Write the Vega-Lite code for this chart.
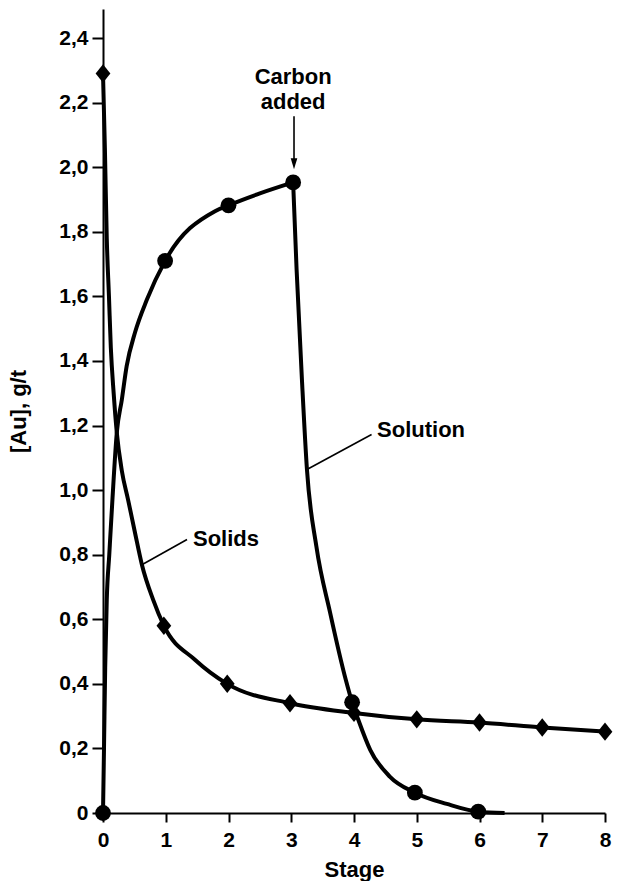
{
  "$schema": "https://vega.github.io/schema/vega-lite/v6.json",
  "width": 502,
  "height": 804,
  "autosize": "none",
  "padding": {"left": 103, "top": 9, "right": 14, "bottom": 68},
  "background": "white",
  "config": {
    "view": {"stroke": null},
    "axis": {
      "domainColor": "black", "domainWidth": 2, "tickColor": "black", "tickWidth": 2,
      "grid": false, "labelFont": "Liberation Sans", "labelFontWeight": "bold",
      "labelFontSize": 21, "labelColor": "black", "titleFont": "Liberation Sans",
      "titleFontWeight": "bold", "titleFontSize": 22, "titleColor": "black",
      "labelOverlap": false, "labelFlush": false
    }
  },
  "datasets": {
    "curves": [
      {"series": "Solids", "seg": "solids", "stage": 0, "value": 2.29, "m": true},
      {"series": "Solids", "seg": "solids", "stage": 0.03, "value": 2.06, "m": false},
      {"series": "Solids", "seg": "solids", "stage": 0.06, "value": 1.78, "m": false},
      {"series": "Solids", "seg": "solids", "stage": 0.095, "value": 1.6, "m": false},
      {"series": "Solids", "seg": "solids", "stage": 0.125, "value": 1.44, "m": false},
      {"series": "Solids", "seg": "solids", "stage": 0.17, "value": 1.30, "m": false},
      {"series": "Solids", "seg": "solids", "stage": 0.22, "value": 1.178, "m": false},
      {"series": "Solids", "seg": "solids", "stage": 0.30, "value": 1.06, "m": false},
      {"series": "Solids", "seg": "solids", "stage": 0.40, "value": 0.97, "m": false},
      {"series": "Solids", "seg": "solids", "stage": 0.51, "value": 0.868, "m": false},
      {"series": "Solids", "seg": "solids", "stage": 0.62, "value": 0.769, "m": false},
      {"series": "Solids", "seg": "solids", "stage": 0.80, "value": 0.66, "m": false},
      {"series": "Solids", "seg": "solids", "stage": 0.97, "value": 0.58, "m": true},
      {"series": "Solids", "seg": "solids", "stage": 1.47, "value": 0.474, "m": false},
      {"series": "Solids", "seg": "solids", "stage": 1.98, "value": 0.40, "m": true},
      {"series": "Solids", "seg": "solids", "stage": 2.98, "value": 0.34, "m": true},
      {"series": "Solids", "seg": "solids", "stage": 4, "value": 0.31, "m": true},
      {"series": "Solids", "seg": "solids", "stage": 5, "value": 0.29, "m": true},
      {"series": "Solids", "seg": "solids", "stage": 6, "value": 0.28, "m": true},
      {"series": "Solids", "seg": "solids", "stage": 7, "value": 0.265, "m": true},
      {"series": "Solids", "seg": "solids", "stage": 8, "value": 0.252, "m": true},
      {"series": "Solution", "seg": "sol-a", "stage": 0, "value": 0, "m": true},
      {"series": "Solution", "seg": "sol-a", "stage": 0.016, "value": 0.2, "m": false},
      {"series": "Solution", "seg": "sol-a", "stage": 0.035, "value": 0.45, "m": false},
      {"series": "Solution", "seg": "sol-a", "stage": 0.06, "value": 0.66, "m": false},
      {"series": "Solution", "seg": "sol-a", "stage": 0.10, "value": 0.80, "m": false},
      {"series": "Solution", "seg": "sol-a", "stage": 0.15, "value": 0.97, "m": false},
      {"series": "Solution", "seg": "sol-a", "stage": 0.22, "value": 1.178, "m": false},
      {"series": "Solution", "seg": "sol-a", "stage": 0.30, "value": 1.28, "m": false},
      {"series": "Solution", "seg": "sol-a", "stage": 0.377, "value": 1.384, "m": false},
      {"series": "Solution", "seg": "sol-a", "stage": 0.51, "value": 1.488, "m": false},
      {"series": "Solution", "seg": "sol-a", "stage": 0.70, "value": 1.59, "m": false},
      {"series": "Solution", "seg": "sol-a", "stage": 0.99, "value": 1.71, "m": true},
      {"series": "Solution", "seg": "sol-a", "stage": 1.785, "value": 1.864, "m": false},
      {"series": "Solution", "seg": "sol-a", "stage": 2.0, "value": 1.882, "m": true},
      {"series": "Solution", "seg": "sol-a", "stage": 2.5, "value": 1.919, "m": false},
      {"series": "Solution", "seg": "sol-a", "stage": 3.03, "value": 1.953, "m": true},
      {"series": "Solution", "seg": "sol-b", "stage": 3.03, "value": 1.953, "m": false},
      {"series": "Solution", "seg": "sol-b", "stage": 3.085, "value": 1.684, "m": false},
      {"series": "Solution", "seg": "sol-b", "stage": 3.17, "value": 1.343, "m": false},
      {"series": "Solution", "seg": "sol-b", "stage": 3.25, "value": 1.064, "m": false},
      {"series": "Solution", "seg": "sol-b", "stage": 3.40, "value": 0.826, "m": false},
      {"series": "Solution", "seg": "sol-b", "stage": 3.62, "value": 0.62, "m": false},
      {"series": "Solution", "seg": "sol-b", "stage": 3.87, "value": 0.412, "m": false},
      {"series": "Solution", "seg": "sol-b", "stage": 3.97, "value": 0.343, "m": true},
      {"series": "Solution", "seg": "sol-b", "stage": 4.07, "value": 0.288, "m": false},
      {"series": "Solution", "seg": "sol-b", "stage": 4.26, "value": 0.195, "m": false},
      {"series": "Solution", "seg": "sol-b", "stage": 4.57, "value": 0.113, "m": false},
      {"series": "Solution", "seg": "sol-b", "stage": 4.97, "value": 0.063, "m": true},
      {"series": "Solution", "seg": "sol-b", "stage": 5.48, "value": 0.028, "m": false},
      {"series": "Solution", "seg": "sol-b", "stage": 5.98, "value": 0.004, "m": true},
      {"series": "Solution", "seg": "sol-b", "stage": 6.4, "value": 0, "m": false}
    ],
    "labelsCenter": [
      {"text": "Carbon", "stage": 3.03, "value": 2.257},
      {"text": "added", "stage": 3.03, "value": 2.18}
    ],
    "labelsLeft": [
      {"text": "Solution", "stage": 4.367, "value": 1.163},
      {"text": "Solids", "stage": 1.434, "value": 0.828}
    ],
    "leaders": [
      {"stage": 4.28, "value": 1.172, "stage2": 3.25, "value2": 1.064},
      {"stage": 1.339, "value": 0.847, "stage2": 0.62, "value2": 0.769},
      {"stage": 3.044, "value": 2.158, "stage2": 3.044, "value2": 2.025}
    ],
    "arrowhead": [
      {"stage": 3.044, "value": 2.011}
    ]
  },
  "layer": [
    {
      "data": {"name": "curves"},
      "mark": {"type": "line", "interpolate": "monotone", "color": "black", "strokeWidth": 4},
      "encoding": {
        "x": {"field": "stage", "type": "quantitative",
              "scale": {"domain": [0, 8], "nice": false, "zero": false},
              "axis": {"title": "Stage", "values": [0, 1, 2, 3, 4, 5, 6, 7, 8], "format": "d", "tickSize": 9, "labelPadding": 7, "titlePadding": 9}},
        "y": {"field": "value", "type": "quantitative",
              "scale": {"domain": [0, 2.49], "nice": false},
              "axis": {"title": "[Au], g/t", "values": [0, 0.2, 0.4, 0.6, 0.8, 1.0, 1.2, 1.4, 1.6, 1.8, 2.0, 2.2, 2.4],
                       "tickSize": 11, "labelPadding": 4, "titlePadding": 28,
                       "labelExpr": "datum.value == 0 ? '0' : replace(format(datum.value, '.1f'), '.', ',')"}},
        "detail": {"field": "seg", "type": "nominal"}
      }
    },
    {
      "data": {"name": "curves"},
      "transform": [{"filter": "datum.m && datum.series == 'Solution'"}],
      "mark": {"type": "point", "shape": "circle", "filled": true, "color": "black", "opacity": 1, "size": 250},
      "encoding": {
        "x": {"field": "stage", "type": "quantitative"},
        "y": {"field": "value", "type": "quantitative"}
      }
    },
    {
      "data": {"name": "curves"},
      "transform": [{"filter": "datum.m && datum.series == 'Solids'"}],
      "mark": {"type": "point", "shape": "M-0.8,0L0,-1L0.8,0L0,1Z", "filled": true, "color": "black", "opacity": 1, "size": 340},
      "encoding": {
        "x": {"field": "stage", "type": "quantitative"},
        "y": {"field": "value", "type": "quantitative"}
      }
    },
    {
      "data": {"name": "leaders"},
      "mark": {"type": "rule", "color": "black", "strokeWidth": 1.6},
      "encoding": {
        "x": {"field": "stage", "type": "quantitative"},
        "y": {"field": "value", "type": "quantitative"},
        "x2": {"field": "stage2"},
        "y2": {"field": "value2"}
      }
    },
    {
      "data": {"name": "arrowhead"},
      "mark": {"type": "point", "shape": "M-0.6,-1L0.6,-1L0,1Z", "filled": true, "color": "black", "opacity": 1, "size": 121},
      "encoding": {
        "x": {"field": "stage", "type": "quantitative"},
        "y": {"field": "value", "type": "quantitative"}
      }
    },
    {
      "data": {"name": "labelsCenter"},
      "mark": {"type": "text", "font": "Liberation Sans", "fontWeight": "bold", "fontSize": 22, "color": "black", "baseline": "alphabetic", "align": "center"},
      "encoding": {
        "x": {"field": "stage", "type": "quantitative"},
        "y": {"field": "value", "type": "quantitative"},
        "text": {"field": "text"}
      }
    },
    {
      "data": {"name": "labelsLeft"},
      "mark": {"type": "text", "font": "Liberation Sans", "fontWeight": "bold", "fontSize": 22, "color": "black", "baseline": "alphabetic", "align": "left"},
      "encoding": {
        "x": {"field": "stage", "type": "quantitative"},
        "y": {"field": "value", "type": "quantitative"},
        "text": {"field": "text"}
      }
    }
  ]
}
